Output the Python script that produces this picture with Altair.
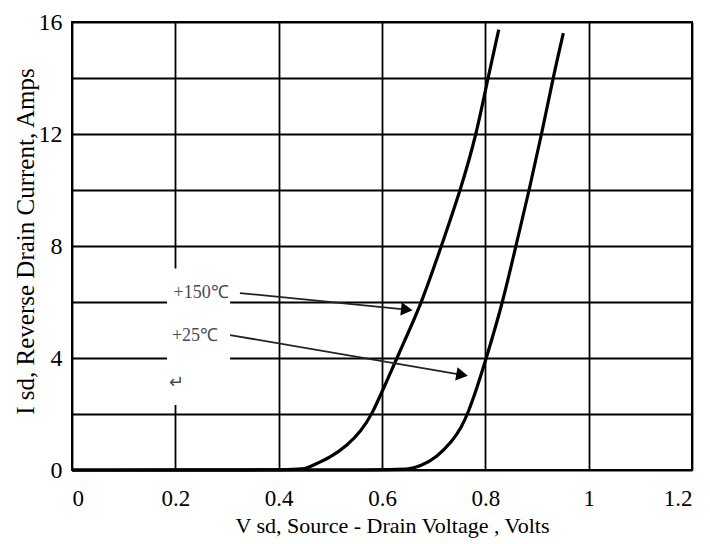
import altair as alt
import pandas as pd

# Curve data
v_150 = [0.0, 0.44, 0.452, 0.47, 0.50, 0.532, 0.56, 0.581, 0.605, 0.629, 0.653, 0.677, 0.715, 0.752, 0.783, 0.805, 0.826]
i_150 = [0.0, 0.0, 0.05, 0.2, 0.45, 0.86, 1.4, 2.0, 3.0, 4.0, 5.0, 6.0, 8.0, 10.0, 12.0, 14.0, 15.73]
v_25 = [0.0, 0.63, 0.65, 0.673, 0.706, 0.737, 0.753, 0.767, 0.785, 0.802, 0.834, 0.859, 0.885, 0.909, 0.931, 0.951]
i_25 = [0.0, 0.0, 0.03, 0.12, 0.45, 1.05, 1.5, 2.05, 3.0, 4.0, 6.0, 8.0, 10.0, 12.0, 14.0, 15.6]

x_ticks = [0, 0.2, 0.4, 0.6, 0.8, 1.0, 1.2]
y_ticks = [0, 2, 4, 6, 8, 10, 12, 14, 16]

# Annotations
label_text = ["+150\u2103", "+25\u2103", "\u21b5"]
label_x = [0.25, 0.238, 0.203]
label_y = [6.32, 4.8, 3.12]
arrow_x1 = [0.325, 0.306]
arrow_y1 = [6.32, 4.82]
arrow_x2 = [0.648, 0.755]
arrow_y2 = [5.73, 3.40]
arrow_angle = [6, 10]
box_x = [0.184]
box_x2 = [0.306]
box_y = [2.32]
box_y2 = [7.2]

curves = pd.DataFrame(
    [{"v": v, "i": i, "s": "150"} for v, i in zip(v_150, i_150)]
    + [{"v": v, "i": i, "s": "25"} for v, i in zip(v_25, i_25)]
)
labels = pd.DataFrame({"t": label_text, "x": label_x, "y": label_y})
arrows = pd.DataFrame({"x1": arrow_x1, "y1": arrow_y1, "x2": arrow_x2, "y2": arrow_y2, "a": arrow_angle})
box = pd.DataFrame({"x": box_x, "x2": box_x2, "y": box_y, "y2": box_y2})

FONT = "Liberation Serif"

xs = alt.Scale(domain=[0, 1.2], nice=False, zero=False)
ys = alt.Scale(domain=[0, 16], nice=False, zero=False)

x_axis = alt.Axis(
    values=x_ticks, format="~g", grid=True, gridColor="black", gridWidth=1.8, gridOpacity=1,
    domain=False, ticks=False, labelFont=FONT, labelFontSize=23, labelColor="black",
    labelPadding=17, title="V sd, Source - Drain Voltage , Volts", titleFont=FONT,
    titleFontSize=22, titleFontWeight="normal", titleColor="black",
    titleX=320, titleY=45, titleBaseline="top", titleAlign="center",
)
y_axis = alt.Axis(
    values=y_ticks, labelExpr="datum.value % 4 == 0 ? datum.label : ''", grid=True,
    gridColor="black", gridWidth=1.8, gridOpacity=1, domain=False, ticks=False,
    labelFont=FONT, labelFontSize=24, labelColor="black", labelPadding=10,
    title="I sd, Reverse Drain Current, Amps", titleFont=FONT, titleFontSize=25,
    titleFontWeight="normal", titleColor="black",
    titleX=-39, titleY=219, titleBaseline="alphabetic", titleAlign="center", titleAngle=270,
)

base = alt.Chart(curves).mark_line(color="black", strokeWidth=3.2, interpolate="basis").encode(
    x=alt.X("v:Q", scale=xs, axis=x_axis),
    y=alt.Y("i:Q", scale=ys, axis=y_axis),
    detail="s:N",
)

white = alt.Chart(box).mark_rect(color="white").encode(
    x=alt.X("x:Q", scale=xs), x2="x2:Q", y=alt.Y("y:Q", scale=ys), y2="y2:Q"
)

shafts = alt.Chart(arrows).mark_rule(color="#222", strokeWidth=1.8).encode(
    x=alt.X("x1:Q", scale=xs), y=alt.Y("y1:Q", scale=ys), x2="x2:Q", y2="y2:Q"
)
heads = alt.Chart(arrows).mark_point(shape="triangle-right", filled=True, color="black", size=180, opacity=1).encode(
    x=alt.X("x2:Q", scale=xs), y=alt.Y("y2:Q", scale=ys), angle=alt.Angle("a:Q", scale=None)
)
texts = alt.Chart(labels).mark_text(font=FONT, fontSize=18, color="#4a4a5a").encode(
    x=alt.X("x:Q", scale=xs), y=alt.Y("y:Q", scale=ys), text="t:N"
)

chart = (
    alt.layer(base, white, shafts, heads, texts)
    .properties(
        width=620, height=448,
        autosize=alt.AutoSizeParams(type="none"),
        padding={"left": 64, "top": 14, "right": 10, "bottom": 70},
        background="white",
    )
    .configure_view(stroke="black", strokeWidth=2)
)

chart.save("out.html", embed_options={"renderer": "svg", "actions": False})
